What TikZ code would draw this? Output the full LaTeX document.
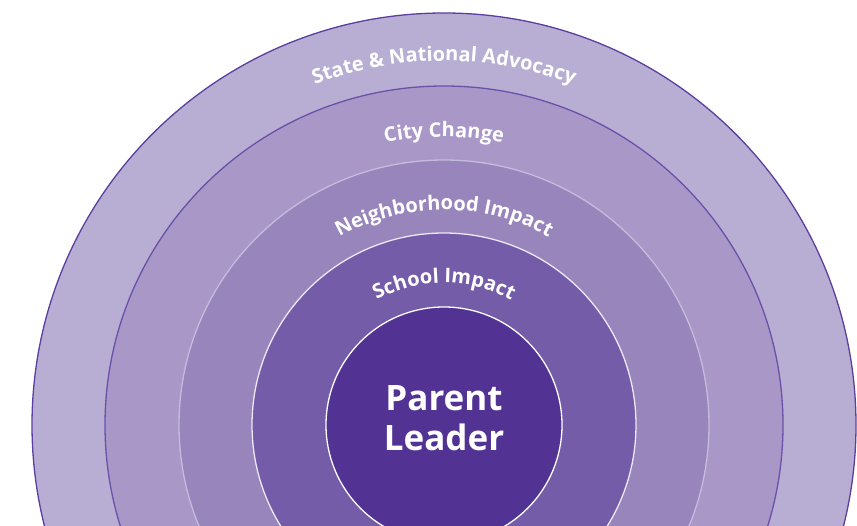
\documentclass[tikz,border=0pt]{standalone}
\usepackage{fontspec}
\setmainfont{Open Sans}
\usetikzlibrary{decorations.text}

\definecolor{ringState}{HTML}{B8ADD3}
\definecolor{ringCity}{HTML}{A897C7}
\definecolor{ringHood}{HTML}{9885BC}
\definecolor{ringSchool}{HTML}{745CA8}
\definecolor{ringParent}{HTML}{523393}
\definecolor{edgeDark}{HTML}{5B3E9E}
\definecolor{edgeMid}{HTML}{6A52A8}
\definecolor{edgeLight}{HTML}{C5BCDD}
\definecolor{edgePale}{HTML}{ECE8F4}

\newcommand\ringfont{\color{white}\bfseries\fontsize{20}{20}\selectfont}

\begin{document}
\begin{tikzpicture}[x=1pt,y=1pt,
    ring/.style={circle,inner sep=0pt,line width=1.3pt},
    arclabel/.style={decorate,decoration={text along path,text align=center,text={|\ringfont|#1}}}]
    \useasboundingbox (0,0) rectangle (857,525);
    \clip (0,0) rectangle (857,525);
    \coordinate (ctr) at (444,100);
    \node[ring,fill=ringState,draw=edgeDark,minimum size=824pt]  (state)  at (ctr) {};
    \node[ring,fill=ringCity,draw=edgeMid,minimum size=678pt]    (city)   at (ctr) {};
    \node[ring,fill=ringHood,draw=edgeLight,minimum size=530pt]  (hood)   at (ctr) {};
    \node[ring,fill=ringSchool,draw=edgePale,minimum size=384pt] (school) at (ctr) {};
    \node[ring,fill=ringParent,draw=white,minimum size=236pt]    (parent) at (ctr) {};
    \node[text=white,align=center,font=\bfseries\fontsize{35}{40}\selectfont]
        (parentlbl) at ([yshift=7pt]ctr) {Parent\\Leader};
    % labels along the rings
    \path[arclabel={State {\&} National Advocacy}] (ctr) ++(180:364) arc[start angle=180,end angle=0,radius=364];
    \path[arclabel={City Change}]                  (ctr) ++(180:288) arc[start angle=180,end angle=0,radius=288];
    \path[arclabel={Neighborhood Impact}]          (ctr) ++(180:215) arc[start angle=180,end angle=0,radius=215];
    \path[arclabel={School Impact}]                (ctr) ++(180:142) arc[start angle=180,end angle=0,radius=142];
\end{tikzpicture}
\end{document}
